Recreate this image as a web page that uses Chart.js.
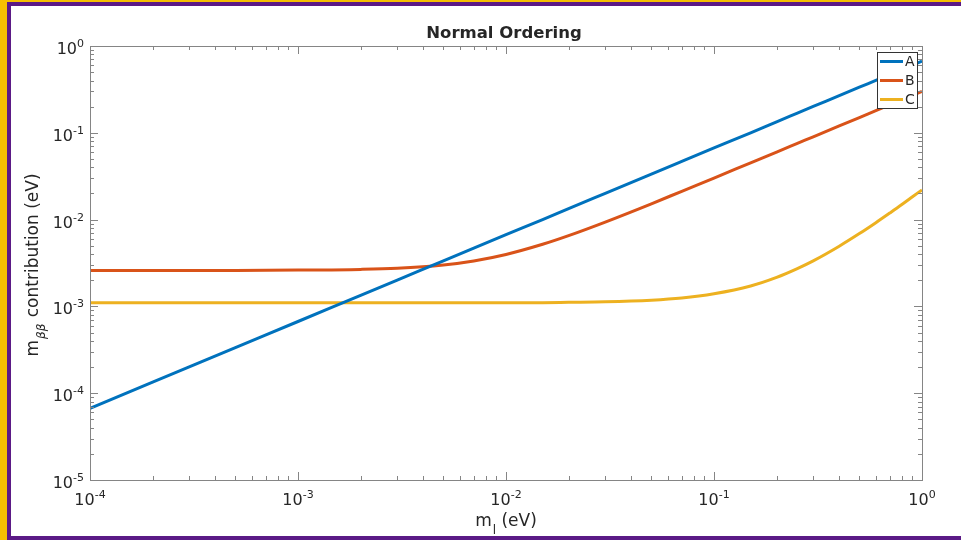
<!DOCTYPE html>
<html>
<head>
<meta charset="utf-8">
<script src="https://cdn.jsdelivr.net/npm/chart.js@4.4.1/dist/chart.umd.min.js"></script>
<style>
    html, body { margin: 0; padding: 0; }
    body { width: 961px; height: 540px; background: #F5BF00; position: relative; overflow: hidden; }
    #frame { position: absolute; left: 7px; top: 2px; width: 954px; height: 538px; background: #5B1A86; }
    #plot { position: absolute; left: 11px; top: 6px; width: 950px; height: 530px; background: #fff; }
</style>
</head>
<body>
<div id="frame"></div>
<canvas id="plot" width="950" height="530"></canvas>
<script>
// lightest mass m_l (eV)
const masses = [1e-4, 2e-4, 5e-4, 1e-3, 2e-3, 3e-3, 5e-3, 7e-3, 1e-2, 1.5e-2, 2e-2, 3e-2,
                5e-2, 7e-2, 0.1, 0.15, 0.2, 0.25, 0.3, 0.4, 0.5, 0.6, 0.7, 0.8, 0.9, 1];
const seriesA = [6.7e-5, 1.34e-4, 3.35e-4, 6.7e-4, 1.34e-3, 2.01e-3, 3.35e-3, 4.69e-3, 6.7e-3, 1.0e-2, 1.34e-2, 2.01e-2,
                 3.35e-2, 4.69e-2, 6.7e-2, 0.1, 0.134, 0.1675, 0.201, 0.268, 0.335, 0.402, 0.469, 0.536, 0.603, 0.67];
const seriesB = [2.6e-3, 2.6e-3, 2.6e-3, 2.62e-3, 2.67e-3, 2.75e-3, 3.0e-3, 3.34e-3, 3.97e-3, 5.2e-3, 6.54e-3, 9.37e-3,
                 1.52e-2, 2.12e-2, 3.01e-2, 4.51e-2, 6.0e-2, 7.5e-2, 9.0e-2, 0.12, 0.15, 0.18, 0.21, 0.24, 0.27, 0.3];
const seriesC = [1.1e-3, 1.1e-3, 1.1e-3, 1.1e-3, 1.1e-3, 1.1e-3, 1.1e-3, 1.1e-3, 1.1e-3, 1.105e-3, 1.115e-3, 1.13e-3,
                 1.18e-3, 1.25e-3, 1.4e-3, 1.72e-3, 2.16e-3, 2.71e-3, 3.35e-3, 4.94e-3, 6.9e-3, 9.22e-3, 1.19e-2, 1.49e-2, 1.83e-2, 2.2e-2];
const seriesNames = ['A', 'B', 'C'];
const seriesColors = ['#0072BD', '#D95319', '#EDB120'];
const xTickExps = [-4, -3, -2, -1, 0];
const yTickExps = [-5, -4, -3, -2, -1, 0];
const titleText = 'Normal Ordering';

const FONT = '"DejaVu Sans", sans-serif';
const TEXT = '#262626';
const AXIS = '#858585';

function pts(ys) {
    return masses.map((m, i) => ({ x: m, y: ys[i] }));
}

// "10" with a raised exponent, anchored by align
function powWidth(ctx, exp) {
    ctx.font = '16px ' + FONT;
    const w1 = ctx.measureText('10').width;
    ctx.font = '11px ' + FONT;
    return w1 + ctx.measureText(String(exp)).width;
}
function drawPow(ctx, exp, x, y, align) {
    const w = powWidth(ctx, exp);
    let left = x;
    if (align === 'right') left = x - w;
    if (align === 'center') left = x - w / 2;
    ctx.textAlign = 'left';
    ctx.textBaseline = 'alphabetic';
    ctx.fillStyle = TEXT;
    ctx.font = '16px ' + FONT;
    ctx.fillText('10', left, y);
    const w1 = ctx.measureText('10').width;
    ctx.font = '11px ' + FONT;
    ctx.fillText(String(exp), left + w1, y - 7);
}

const decorPlugin = {
    id: 'decor',
    afterDatasetsDraw(chart) {
        const ctx = chart.ctx;
        const a = chart.chartArea;
        const xs = chart.scales.x, ys = chart.scales.y;
        ctx.save();

        // box
        ctx.strokeStyle = AXIS;
        ctx.lineWidth = 1;
        ctx.strokeRect(Math.round(a.left) + 0.5, Math.round(a.top) + 0.5,
                       Math.round(a.right - a.left), Math.round(a.bottom - a.top));

        // inward ticks, major + minor
        ctx.beginPath();
        for (let e = xTickExps[0]; e <= xTickExps[xTickExps.length - 1]; e++) {
            for (let k = 1; k <= 9; k++) {
                const v = k * Math.pow(10, e);
                if (v > 1.0000001 * Math.pow(10, xTickExps[xTickExps.length - 1])) break;
                const px = Math.round(xs.getPixelForValue(v)) + 0.5;
                const len = k === 1 ? 8 : 4;
                ctx.moveTo(px, a.bottom); ctx.lineTo(px, a.bottom - len);
                ctx.moveTo(px, a.top); ctx.lineTo(px, a.top + len);
            }
        }
        for (let e = yTickExps[0]; e <= yTickExps[yTickExps.length - 1]; e++) {
            for (let k = 1; k <= 9; k++) {
                const v = k * Math.pow(10, e);
                if (v > 1.0000001 * Math.pow(10, yTickExps[yTickExps.length - 1])) break;
                const py = Math.round(ys.getPixelForValue(v)) + 0.5;
                const len = k === 1 ? 8 : 4;
                ctx.moveTo(a.left, py); ctx.lineTo(a.left + len, py);
                ctx.moveTo(a.right, py); ctx.lineTo(a.right - len, py);
            }
        }
        ctx.stroke();

        // tick labels
        xTickExps.forEach(e => drawPow(ctx, e, xs.getPixelForValue(Math.pow(10, e)), a.bottom + 25, 'center'));
        yTickExps.forEach(e => drawPow(ctx, e, a.left - 6, ys.getPixelForValue(Math.pow(10, e)) + 8, 'right'));

        // title
        ctx.fillStyle = TEXT;
        ctx.font = 'bold 16.5px ' + FONT;
        ctx.textAlign = 'center';
        ctx.textBaseline = 'alphabetic';
        ctx.fillText(titleText, (a.left + a.right) / 2 - 2, a.top - 8);

        // x axis title: m_l (eV)
        ctx.textAlign = 'left';
        ctx.font = '17px ' + FONT;
        const wm = ctx.measureText('m').width;
        const wr = ctx.measureText(' (eV)').width;
        ctx.font = '12px ' + FONT;
        const ws = ctx.measureText('l').width + 1;
        let x0 = (a.left + a.right) / 2 - (wm + ws + wr) / 2;
        const by = a.bottom + 46;
        ctx.font = '17px ' + FONT;
        ctx.fillText('m', x0, by);
        ctx.font = '12px ' + FONT;
        ctx.fillText('l', x0 + wm + 1, by + 8);
        ctx.font = '17px ' + FONT;
        ctx.fillText(' (eV)', x0 + wm + ws, by);

        // y axis title: m_bb contribution (eV)
        ctx.save();
        ctx.translate(27, (a.top + a.bottom) / 2 + 2);
        ctx.rotate(-Math.PI / 2);
        ctx.font = '17px ' + FONT;
        const ym = ctx.measureText('m').width;
        const yr = ctx.measureText(' contribution (eV)').width;
        ctx.font = 'italic 12px ' + FONT;
        const yb = ctx.measureText('\u03B2\u03B2').width + 2;
        let y0 = -(ym + yb + yr) / 2;
        ctx.font = '17px ' + FONT;
        ctx.fillText('m', y0, 0);
        ctx.font = 'italic 12px ' + FONT;
        ctx.fillText('\u03B2\u03B2', y0 + ym + 1, 7);
        ctx.font = '17px ' + FONT;
        ctx.fillText(' contribution (eV)', y0 + ym + yb, 0);
        ctx.restore();

        // legend box
        const lx = a.right - 45, ly = a.top + 6, lw = 40, lh = 56;
        ctx.fillStyle = '#fff';
        ctx.fillRect(lx, ly, lw, lh);
        ctx.strokeStyle = '#333';
        ctx.lineWidth = 1;
        ctx.strokeRect(lx + 0.5, ly + 0.5, lw, lh);
        ctx.font = '14px ' + FONT;
        ctx.textBaseline = 'middle';
        chart.data.datasets.forEach((ds, i) => {
            const yy = ly + 9.5 + i * 19;
            ctx.strokeStyle = ds.borderColor;
            ctx.lineWidth = 3;
            ctx.beginPath();
            ctx.moveTo(lx + 3, yy); ctx.lineTo(lx + 26, yy);
            ctx.stroke();
            ctx.fillStyle = TEXT;
            ctx.fillText(ds.label, lx + 28, yy + 1);
        });

        ctx.restore();
    }
};

new Chart(document.getElementById('plot'), {
    type: 'line',
    data: {
        datasets: [seriesA, seriesB, seriesC].map((ys, i) => ({
            label: seriesNames[i],
            data: pts(ys),
            borderColor: seriesColors[i],
            backgroundColor: seriesColors[i],
            borderWidth: 3,
            pointRadius: 0,
            cubicInterpolationMode: 'monotone',
            fill: false
        }))
    },
    options: {
        responsive: false,
        animation: false,
        devicePixelRatio: 1,
        layout: { padding: { left: 0, right: 39, top: 40, bottom: 0 } },
        plugins: { legend: { display: false }, tooltip: { enabled: false }, title: { display: false } },
        scales: {
            x: {
                type: 'logarithmic',
                min: Math.pow(10, xTickExps[0]),
                max: Math.pow(10, xTickExps[xTickExps.length - 1]),
                grid: { display: false },
                border: { display: false },
                ticks: { display: false },
                afterFit: s => { s.height = 56; }
            },
            y: {
                type: 'logarithmic',
                min: Math.pow(10, yTickExps[0]),
                max: Math.pow(10, yTickExps[yTickExps.length - 1]),
                grid: { display: false },
                border: { display: false },
                ticks: { display: false },
                afterFit: s => { s.width = 79; }
            }
        }
    },
    plugins: [decorPlugin]
});
</script>
</body>
</html>
